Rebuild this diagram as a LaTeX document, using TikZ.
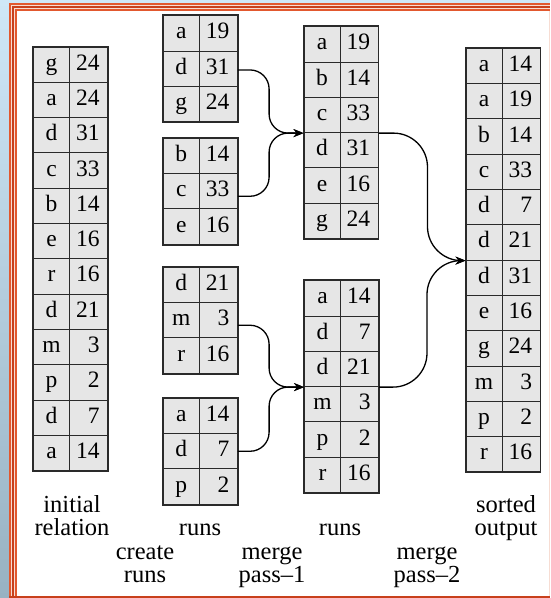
\documentclass[tikz,border=0pt]{standalone}
\usepackage{fontspec}
\setmainfont{Liberation Serif}
\usetikzlibrary{arrows.meta}
\definecolor{cellfill}{HTML}{E6E6E6}
\definecolor{cellline}{HTML}{2A2A2A}
\definecolor{frameor}{HTML}{E2582E}
\definecolor{framedk}{HTML}{C8401C}
\definecolor{framepale}{HTML}{F7DDD3}
\definecolor{skyb}{HTML}{CFE7F7}
\definecolor{skyg}{HTML}{98B2C2}
\def\rowh{35.3}
\tikzset{
  cellbase/.style={rectangle, draw=cellline, fill=cellfill, line width=1pt,
    minimum height=35.3pt, inner sep=0pt, text height=16pt, text depth=5pt,
    font=\fontsize{23.5}{25}\selectfont},
  lcell/.style={cellbase, minimum width=36pt},
  ncell/.style={cellbase, minimum width=38pt},
  tabframe/.style={draw=cellline, line width=1.7pt},
  conn/.style={draw=black, line width=1.3pt, -{Stealth[length=10pt,width=8pt]}},
  lbl/.style={align=center, font=\fontsize{24.5}{23}\selectfont, inner sep=0pt}
}
\newcommand\drawtab[5]{%
  \foreach \l/\n [count=\i] in {#5}{
    \node[lcell] (#1-\i-l) at ({#2+18},{#3+(\i-0.5)*\rowh}) {\l};
    \node[ncell] (#1-\i-r) at ({#2+55},{#3+(\i-0.5)*\rowh}) {\makebox[38pt][r]{\n\hspace{8pt}}};
  }
  \draw[tabframe] (#1-1-l.north west) rectangle (#1-#4-r.south east);
}
\begin{document}
\begin{tikzpicture}[x=1pt,y=-1pt]
\useasboundingbox (0,0) rectangle (550,598);
% frame
\fill[skyb] (0,0) rectangle (550,598);
\shade[top color=skyb, bottom color=skyg] (0,0) rectangle (9,598);
\fill[framepale] (9,3) rectangle (550,598);
\fill[frameor] (9,3) rectangle (550,4.6);
\fill[frameor] (9,3) rectangle (11,598);
\fill[framedk] (12,5.5) rectangle (550,8);
\fill[framedk] (12,5.5) rectangle (14,598);
\fill[frameor] (15,9) rectangle (550,10.5);
\fill[frameor] (15,9) rectangle (16.7,598);
\fill[white] (17,11) rectangle (549,595.5);
\fill[framedk] (9,596) rectangle (550,598);
% tables
\drawtab{in}{33.5}{47}{12}{g/24,a/24,d/31,c/33,b/14,e/16,r/16,d/21,m/3,p/2,d/7,a/14}
\drawtab{ra}{163.3}{15.7}{3}{a/19,d/31,g/24}
\drawtab{rb}{163.3}{138.3}{3}{b/14,c/33,e/16}
\drawtab{rc}{163.3}{267.3}{3}{d/21,m/3,r/16}
\drawtab{rd}{163.3}{398.3}{3}{a/14,d/7,p/2}
\drawtab{ma}{304}{26.7}{6}{a/19,b/14,c/33,d/31,e/16,g/24}
\drawtab{mb}{304.5}{280.7}{6}{a/14,d/7,d/21,m/3,p/2,r/16}
\drawtab{out}{466}{48.3}{12}{a/14,a/19,b/14,c/33,d/7,d/21,d/31,e/16,g/24,m/3,p/2,r/16}
% connectors
\draw[conn, rounded corners=19pt] ([yshift=-1.3pt]ra-2-r.east) -- ++(31.3,0) |- (ma-3-l.south west);
\draw[conn, rounded corners=19pt] ([yshift=-5pt]rb-2-r.east) -- ++(31.3,0) |- (ma-3-l.south west);
\draw[conn, rounded corners=19pt] ([yshift=-5pt]rc-2-r.east) -- ++(31.3,0) |- (mb-3-l.south west);
\draw[conn, rounded corners=19pt] (rd-2-r.east) -- ++(31.3,0) |- (mb-3-l.south west);
\draw[conn, rounded corners=34pt] (ma-3-r.south east) -- ++(49,0) |- (out-6-l.south west);
\draw[conn, rounded corners=34pt] (mb-3-r.south east) -- ++(48,0) |- (out-6-l.south west);
% labels (base anchor = baseline of last line)
\node[lbl, anchor=base] (l1) at (72,535) {initial\\relation};
\node[lbl, anchor=base] (l2) at (200,535) {runs};
\node[lbl, anchor=base] (l3) at (340,535) {runs};
\node[lbl, anchor=base] (l4) at (506,535) {sorted\\output};
\node[lbl, anchor=base] (l5) at (145,582) {create\\runs};
\node[lbl, anchor=base] (l6) at (272,582) {merge\\pass--1};
\node[lbl, anchor=base] (l7) at (427,582) {merge\\pass--2};
\end{tikzpicture}
\end{document}
